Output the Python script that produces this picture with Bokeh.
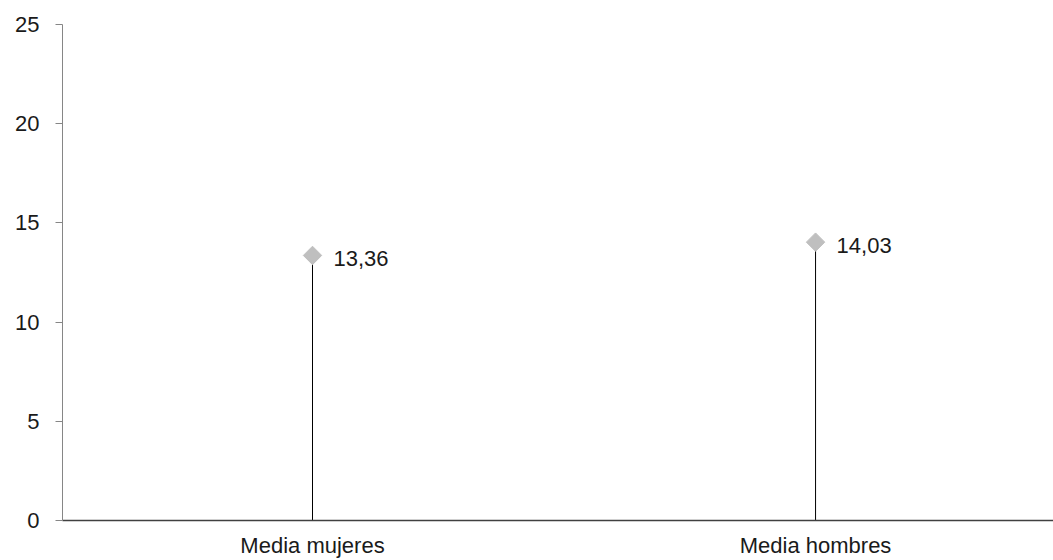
import math
from bokeh.plotting import figure
from bokeh.models import Range1d, FixedTicker, ColumnDataSource
from bokeh.embed import file_html
from bokeh.resources import INLINE
from bokeh.core.properties import value

categories = ["Media mujeres", "Media hombres"]
values = [13.36, 14.03]
labels = ["13,36", "14,03"]
y_ticks = [0, 5, 10, 15, 20, 25]

xs = list(range(len(categories)))
src = ColumnDataSource(dict(x=xs, y=values, base=[0] * len(values), lab=labels))

p = figure(width=1053, height=560, output_backend="svg", toolbar_location=None,
           x_range=Range1d(-0.497, 1.473), y_range=Range1d(0, 25),
           min_border_left=62, min_border_right=0, min_border_top=24, min_border_bottom=39)
p.outline_line_color = None
p.xgrid.visible = False
p.ygrid.visible = False

p.segment(x0="x", y0="base", x1="x", y1="y", source=src, line_color="black", line_width=1)
p.scatter(x="x", y="y", source=src, marker="square", size=13, angle=math.pi / 4,
          fill_color="#bfbfbf", line_color="#bfbfbf")
p.text(x="x", y="y", text="lab", source=src, x_offset=21, y_offset=3, text_baseline="middle",
       text_font=value("Liberation Sans"), text_font_size="22px", text_color="#1a1a1a")

p.yaxis.ticker = FixedTicker(ticks=y_ticks)
p.yaxis.axis_line_color = "#868686"
p.yaxis.major_tick_line_color = "#868686"
p.yaxis.major_tick_out = 7
p.yaxis.major_tick_in = 0
p.yaxis.minor_tick_line_color = None
p.yaxis.major_label_standoff = 16
p.yaxis.major_label_text_font = "Liberation Sans"
p.yaxis.major_label_text_font_size = "22px"
p.yaxis.major_label_text_color = "#1a1a1a"

p.xaxis.ticker = FixedTicker(ticks=xs)
p.xaxis.major_label_overrides = {i: c for i, c in zip(xs, categories)}
p.xaxis.axis_line_color = "#404040"
p.xaxis.axis_line_width = 1.5
p.xaxis.major_tick_line_color = None
p.xaxis.major_tick_out = 0
p.xaxis.major_tick_in = 0
p.xaxis.minor_tick_line_color = None
p.xaxis.major_label_standoff = 12
p.xaxis.major_label_text_font = "Liberation Sans"
p.xaxis.major_label_text_font_size = "22px"
p.xaxis.major_label_text_color = "#1a1a1a"

open("out.html", "w").write(file_html(p, INLINE))
